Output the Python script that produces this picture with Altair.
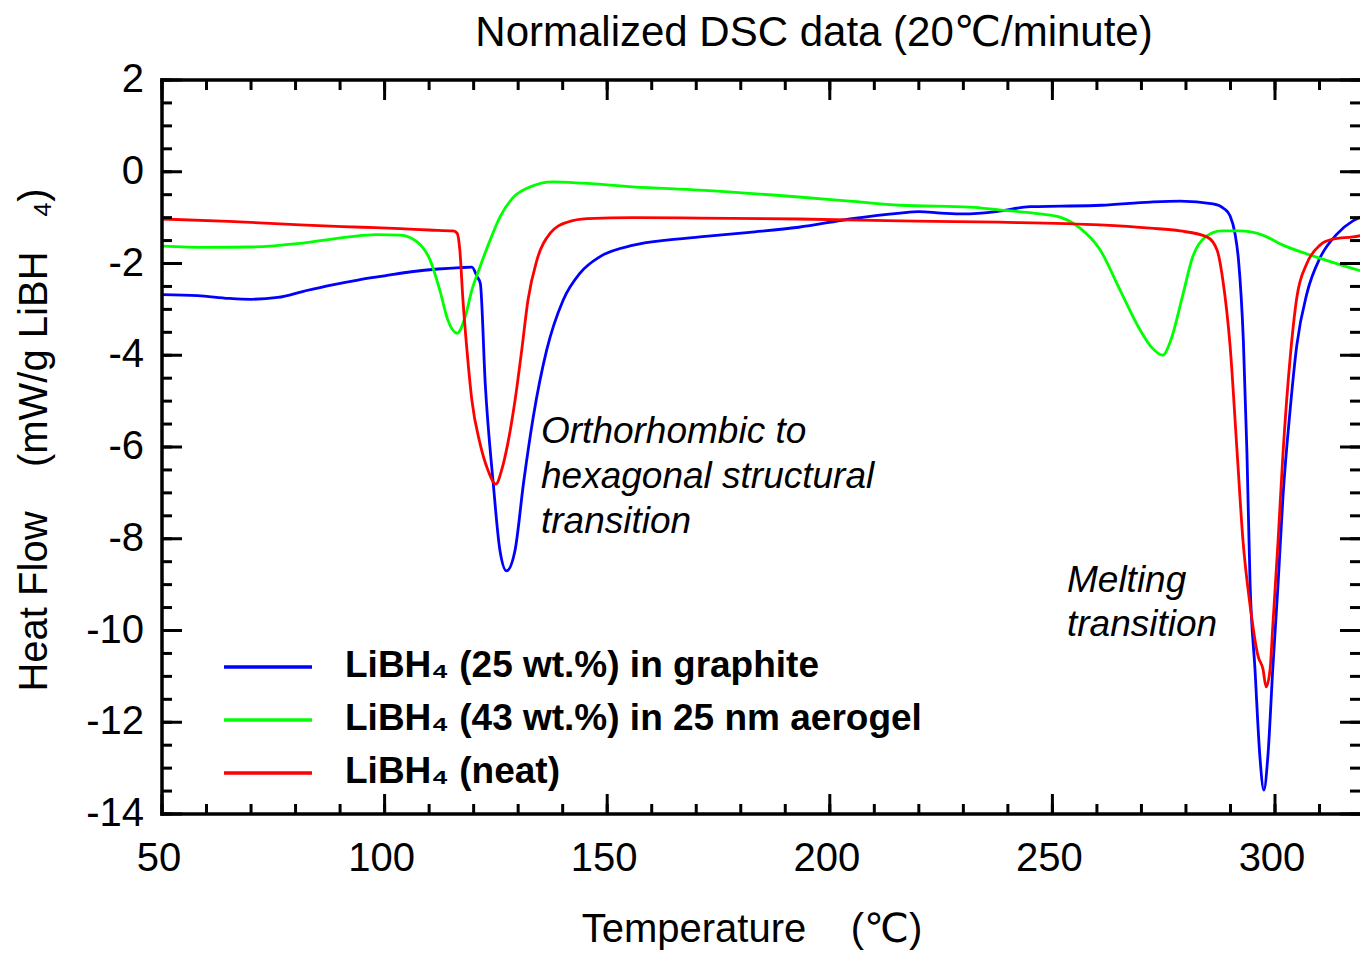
import altair as alt
import pandas as pd

# ---------------- data ----------------
series_names = [
    "LiBH\u2084 (25 wt.%) in graphite",
    "LiBH\u2084 (43 wt.%) in 25 nm aerogel",
    "LiBH\u2084 (neat)",
]
series_colors = ["#0000ff", "#00ff00", "#ff0000"]

temp_graphite = [50, 58, 65, 70, 76, 82, 88, 94, 100, 106, 112, 117, 119.6, 120.8, 121.5,
                 122.6, 124.4, 125.9, 127.4, 129.3, 131.2, 133.4, 136.4, 140.1, 143.9, 148.4,
                 155.9, 163.4, 170.8, 182, 193, 204.5, 215.8, 220, 225, 230, 238, 245, 252,
                 261, 272, 278.7, 286.1, 288.5, 289.9, 291.0, 291.8, 292.9, 293.7, 294.4,
                 295.5, 296.6, 297.5, 298.4, 299.5, 300.7, 301.8, 303.4, 304.9, 307.2, 310.1,
                 313.9, 317.5, 321]
hf_graphite = [-2.68, -2.70, -2.76, -2.78, -2.74, -2.60, -2.47, -2.36, -2.27, -2.18, -2.12,
               -2.09, -2.08, -2.29, -2.43, -4.61, -6.79, -8.25, -8.70, -8.25, -6.79, -5.34,
               -3.89, -2.80, -2.21, -1.85, -1.60, -1.49, -1.42, -1.32, -1.21, -1.03, -0.90,
               -0.87, -0.90, -0.92, -0.86, -0.76, -0.75, -0.73, -0.66, -0.64, -0.70, -0.80,
               -0.96, -1.34, -1.92, -3.70, -6.13, -8.97, -10.84, -12.74, -13.48, -12.74,
               -10.84, -8.97, -7.07, -5.19, -3.78, -2.64, -1.88, -1.36, -1.07, -0.94]

temp_aerogel = [50, 60, 70, 81, 92, 98, 103.5, 107.3, 110.2, 112.4, 114.2, 116.3, 118.1,
                119.6, 121.4, 123.7, 125.9, 128.8, 132.7, 137.8, 144.6, 155.8, 170.8, 193,
                204.5, 215.8, 231.5, 238, 247.2, 251.7, 256.2, 260.7, 265.2, 269.7, 272.5,
                274.8, 276.6, 279.2, 281.5, 284.4, 288.0, 292.0, 297.2, 301.8, 309.3, 321]
hf_aerogel = [-1.62, -1.65, -1.64, -1.56, -1.42, -1.37, -1.38, -1.53, -1.92, -2.58, -3.23,
              -3.52, -3.16, -2.58, -2.08, -1.49, -0.99, -0.57, -0.33, -0.22, -0.25, -0.33,
              -0.40, -0.55, -0.64, -0.73, -0.77, -0.83, -0.92, -0.99, -1.23, -1.70, -2.58,
              -3.45, -3.85, -4.00, -3.67, -2.72, -1.86, -1.42, -1.29, -1.29, -1.38, -1.60,
              -1.86, -2.21]

temp_neat = [50, 65, 81, 95, 103.5, 110, 115.4, 116.3, 116.9, 117.6, 118.5, 119.6, 121.4,
             123.2, 125.0, 126.3, 127.7, 129.3, 130.8, 132.2, 134.2, 137.2, 141.0, 145.5,
             155.8, 170.8, 193, 215.8, 238, 260.7, 272, 278.7, 284.7, 287.0, 288.3, 289.9,
             291.5, 292.8, 294.4, 296.2, 297.3, 298.0, 298.9, 299.5, 300.7, 301.8, 303.4,
             304.9, 307.2, 310.1, 313.0, 317.5, 321]
hf_neat = [-1.03, -1.08, -1.16, -1.21, -1.24, -1.27, -1.29, -1.34, -1.71, -2.80, -3.89,
           -4.98, -5.91, -6.50, -6.81, -6.50, -5.91, -4.98, -3.89, -2.80, -1.93, -1.34,
           -1.10, -1.02, -1.00, -1.01, -1.03, -1.07, -1.10, -1.16, -1.23, -1.29, -1.42,
           -1.71, -2.37, -3.78, -6.13, -8.03, -9.45, -10.56, -10.84, -11.23, -10.84, -9.91,
           -8.03, -6.13, -4.06, -2.74, -1.99, -1.60, -1.47, -1.42, -1.36]

x_major = [50, 100, 150, 200, 250, 300]
x_minor = list(range(50, 320, 10))
y_major = list(range(-14, 3, 2))
y_minor = [v / 2 for v in range(-28, 5)]

NB = "\u00a0"
title_text = "Normalized DSC data (20\u2103/minute)"
x_title = "Temperature" + NB * 4 + "(\u2103)"
y_title = "Heat Flow" + NB * 4 + "(mW/g LiBH" + NB * 3 + "\u2084)"
note_ortho = "Orthorhombic to\nhexagonal structural\ntransition"
note_melt = "Melting\ntransition"

# ---------------- layout ----------------
W, H = 1198, 734
FONT = "Liberation Sans, Arial, DejaVu Sans"
MAJ, MIN = 20, 10

xs = alt.Scale(domain=[50, 50 + W / 4.452], nice=False, zero=False)
ys = alt.Scale(domain=[-14, 2], nice=False, zero=False)

rows = []
for name, ts, hs in [(series_names[0], temp_graphite, hf_graphite),
                     (series_names[1], temp_aerogel, hf_aerogel),
                     (series_names[2], temp_neat, hf_neat)]:
    for t, h in zip(ts, hs):
        rows.append({"T": t, "HF": h, "series": name})
df = pd.DataFrame(rows)

X = lambda: alt.X("T:Q", scale=xs, axis=None)
Y = lambda: alt.Y("HF:Q", scale=ys, axis=None)

lines = alt.Chart(df).mark_line(strokeWidth=2.8, interpolate="monotone", clip=True).encode(
    x=X(), y=Y(),
    color=alt.Color("series:N", scale=alt.Scale(domain=series_names, range=series_colors),
                    legend=None),
    detail="series:N",
)

one = pd.DataFrame({"a": [0]})


def frame(**enc):
    return alt.Chart(one).mark_rule(strokeWidth=3.5, color="black", strokeCap="square").encode(**enc)


frames = [
    frame(x=alt.value(0), y=alt.value(0), y2=alt.value(H)),
    frame(x=alt.value(0), x2=alt.value(W), y=alt.value(0)),
    frame(x=alt.value(0), x2=alt.value(W), y=alt.value(H)),
]


def yticks(values, x0, x1):
    return alt.Chart(pd.DataFrame({"HF": values})).mark_rule(strokeWidth=3, color="black").encode(
        y=Y(), x=alt.value(x0), x2=alt.value(x1))


def xticks(values, y0, y1):
    return alt.Chart(pd.DataFrame({"T": values})).mark_rule(strokeWidth=3, color="black").encode(
        x=X(), y=alt.value(y0), y2=alt.value(y1))


ticks = [
    yticks(y_minor, 0, MIN), yticks(y_major, 0, MAJ),
    yticks(y_minor, W - MIN, W), yticks(y_major, W - MAJ, W),
    xticks(x_minor, 0, MIN), xticks(x_major, 0, MAJ),
    xticks(x_minor, H - MIN, H), xticks(x_major, H - MAJ, H),
]

xlab = alt.Chart(pd.DataFrame({"T": x_major, "lab": [str(v) for v in x_major]})).mark_text(
    font=FONT, fontSize=40, color="black", align="center", baseline="alphabetic", dx=-3).encode(
    x=X(), y=alt.value(H + 57), text="lab:N")
ylab = alt.Chart(pd.DataFrame({"HF": y_major, "lab": [str(v) for v in y_major]})).mark_text(
    font=FONT, fontSize=40, color="black", align="right", baseline="middle").encode(
    y=Y(), x=alt.value(-18), text="lab:N")

xtitle = alt.Chart(one).mark_text(font=FONT, fontSize=40, color="black", align="center",
                                  baseline="alphabetic").encode(
    x=alt.value(590), y=alt.value(H + 128), text=alt.value(x_title))
ytitle = alt.Chart(one).mark_text(font=FONT, fontSize=40, color="black", align="center",
                                  baseline="alphabetic", angle=270).encode(
    x=alt.value(-115), y=alt.value(360), text=alt.value(y_title))

title = alt.Chart(one).mark_text(font=FONT, fontSize=42, color="black", align="center",
                                 baseline="alphabetic").encode(
    x=alt.value(652), y=alt.value(-34), text=alt.value(title_text))

ann1 = alt.Chart(one).mark_text(font=FONT, fontSize=37, fontStyle="italic", color="black",
                                align="left", baseline="alphabetic", lineBreak="\n",
                                lineHeight=45).encode(
    x=alt.value(379), y=alt.value(363), text=alt.value(note_ortho))
ann2 = alt.Chart(one).mark_text(font=FONT, fontSize=37, fontStyle="italic", color="black",
                                align="left", baseline="alphabetic", lineBreak="\n",
                                lineHeight=44).encode(
    x=alt.value(905), y=alt.value(512), text=alt.value(note_melt))

legend_layers = []
for i, (name, col) in enumerate(zip(series_names, series_colors)):
    legend_layers.append(
        alt.Chart(one).mark_rule(strokeWidth=3.5, color=col).encode(
            x=alt.value(62), x2=alt.value(150), y=alt.value(587 + 53 * i)))
    legend_layers.append(
        alt.Chart(one).mark_text(font=FONT, fontSize=37, fontWeight="bold", color="black",
                                 align="left", baseline="alphabetic").encode(
            x=alt.value(183), y=alt.value(597 + 53 * i), text=alt.value(name)))

chart = alt.layer(
    lines, *ticks, *frames, xlab, ylab, xtitle, ytitle, title, ann1, ann2, *legend_layers
).properties(
    width=W, height=H,
    autosize=alt.AutoSizeParams(type="none"),
    padding={"left": 154, "top": 72, "right": 0, "bottom": 137},
).configure_view(stroke=None).configure(background="white")

chart.save("out.html", embed_options={"renderer": "svg", "actions": False})
